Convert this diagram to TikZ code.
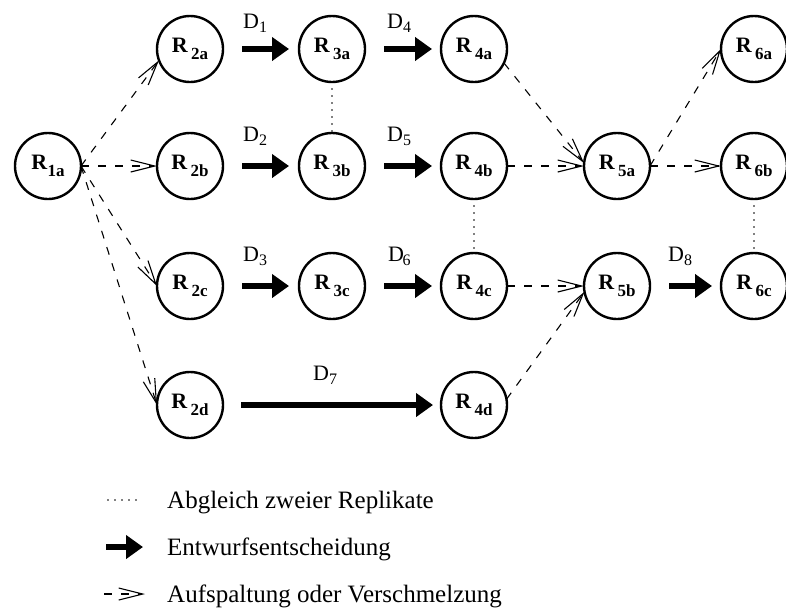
\documentclass[tikz,border=0pt]{standalone}
\usepackage{fontspec}
\setmainfont{Liberation Serif}
\usetikzlibrary{arrows.meta}
\newcommand{\Rlab}[2]{\fontsize{22}{22}\selectfont\textbf{R}\kern#1\raisebox{-7pt}{\fontsize{17}{17}\selectfont\textbf{#2}}}
\newcommand{\Dlab}[1]{\fontsize{22}{22}\selectfont D\raisebox{-4pt}{\fontsize{16}{16}\selectfont #1}}
\tikzset{
  rep/.style={circle, draw, line width=2.4pt, minimum size=66pt, inner sep=0pt, outer sep=0pt},
  split/.style={line width=1.1pt, dash pattern=on 8pt off 9pt,
    -{Straight Barb[length=24pt,width=12pt,line width=1.1pt]}},
  decision/.style={line width=6pt, -{Triangle[length=17pt,width=23pt]}},
  sync/.style={line width=1.6pt, dash pattern=on 0pt off 7pt, line cap=round},
  dlab/.style={anchor=base west, inner sep=0pt},
  legtext/.style={anchor=base west, inner sep=0pt, font=\fontsize{25}{25}\selectfont}
}
\begin{document}
\begin{tikzpicture}[x=1pt, y=-1pt]
\useasboundingbox (0,0) rectangle (786,608);
% nodes
\node[rep] (R1a) at (48,166) {\Rlab{0pt}{1a}};
\node[rep] (R2a) at (190,49) {\Rlab{3pt}{2a}};
\node[rep] (R2b) at (190,166) {\Rlab{3pt}{2b}};
\node[rep] (R2c) at (190,286) {\Rlab{3pt}{2c}};
\node[rep] (R2d) at (190,405) {\Rlab{3pt}{2d}};
\node[rep] (R3a) at (332,49) {\Rlab{3pt}{3a}};
\node[rep] (R3b) at (332,166) {\Rlab{3pt}{3b}};
\node[rep] (R3c) at (332,286) {\Rlab{3pt}{3c}};
\node[rep] (R4a) at (474,49) {\Rlab{3pt}{4a}};
\node[rep] (R4b) at (474,166) {\Rlab{3pt}{4b}};
\node[rep] (R4c) at (474,286) {\Rlab{3pt}{4c}};
\node[rep] (R4d) at (474,405) {\Rlab{3pt}{4d}};
\node[rep] (R5a) at (617,166) {\Rlab{3pt}{5a}};
\node[rep] (R5b) at (617,286) {\Rlab{3pt}{5b}};
\node[rep] (R6a) at (754,49) {\Rlab{3pt}{6a}};
\node[rep] (R6b) at (754,166) {\Rlab{3pt}{6b}};
\node[rep] (R6c) at (754,286) {\Rlab{3pt}{6c}};
% design decisions
\draw[decision, shorten <=19pt, shorten >=10pt] (R2a) -- (R3a);
\draw[decision, shorten <=19pt, shorten >=10pt] (R2b) -- (R3b);
\draw[decision, shorten <=19pt, shorten >=10pt] (R2c) -- (R3c);
\draw[decision, shorten <=19pt, shorten >=9pt] (R3a) -- (R4a);
\draw[decision, shorten <=19pt, shorten >=9pt] (R3b) -- (R4b);
\draw[decision, shorten <=19pt, shorten >=9pt] (R3c) -- (R4c);
\draw[decision, shorten <=18pt, shorten >=8pt] (R2d) -- (R4d);
\draw[decision, shorten <=19pt, shorten >=9pt] (R5b) -- (R6c);
\node[dlab] (D1) at (243,28) {\Dlab{1}};
\node[dlab] (D2) at (243,141) {\Dlab{2}};
\node[dlab] (D3) at (243,261) {\Dlab{3}};
\node[dlab] (D4) at (387,28) {\Dlab{4}};
\node[dlab] (D5) at (387,141) {\Dlab{5}};
\node[dlab] (D6) at (388,261) {\fontsize{22}{22}\selectfont D\kern-1.5pt\raisebox{-4pt}{\fontsize{16}{16}\selectfont 6}};
\node[dlab] (D7) at (313,380) {\Dlab{7}};
\node[dlab] (D8) at (668,261) {\Dlab{8}};
% splits / merges
\draw[split] (R1a.east) -- (R2a.200);
\draw[split] (R1a.east) -- (R2b.west);
\draw[split] (R1a.east) -- (R2c.west);
\draw[split] (R1a.east) -- (R2d.west);
\draw[split] (R4a.-25) -- (R5a.175);
\draw[split] (R4b.east) -- (R5a.west);
\draw[split] (R5a.east) -- (R6a.west);
\draw[split] (R5a.east) -- (R6b.west);
\draw[split] (R4c.east) -- (R5b.west);
\draw[split] (R4d.10) -- (R5b.190);
% reconciliation
\draw[sync] (R3a) -- (R3b);
\draw[sync] (R4b) -- (R4c);
\draw[sync] (R6b) -- (R6c);
% legend
\coordinate (l1a) at (108,500); \coordinate (l1b) at (143,500);
\coordinate (l2a) at (106,547); \coordinate (l2b) at (143,547);
\coordinate (l3a) at (104,594); \coordinate (l3b) at (145,594);
\draw[sync] (l1a) -- (l1b);
\draw[decision] (l2a) -- (l2b);
\draw[split] (l3a) -- (l3b);
\node[legtext] (t1) at (167,508) {Abgleich zweier Replikate};
\node[legtext] (t2) at (167,555) {Entwurfsentscheidung};
\node[legtext] (t3) at (167,602) {Aufspaltung oder Verschmelzung};
\end{tikzpicture}
\end{document}
